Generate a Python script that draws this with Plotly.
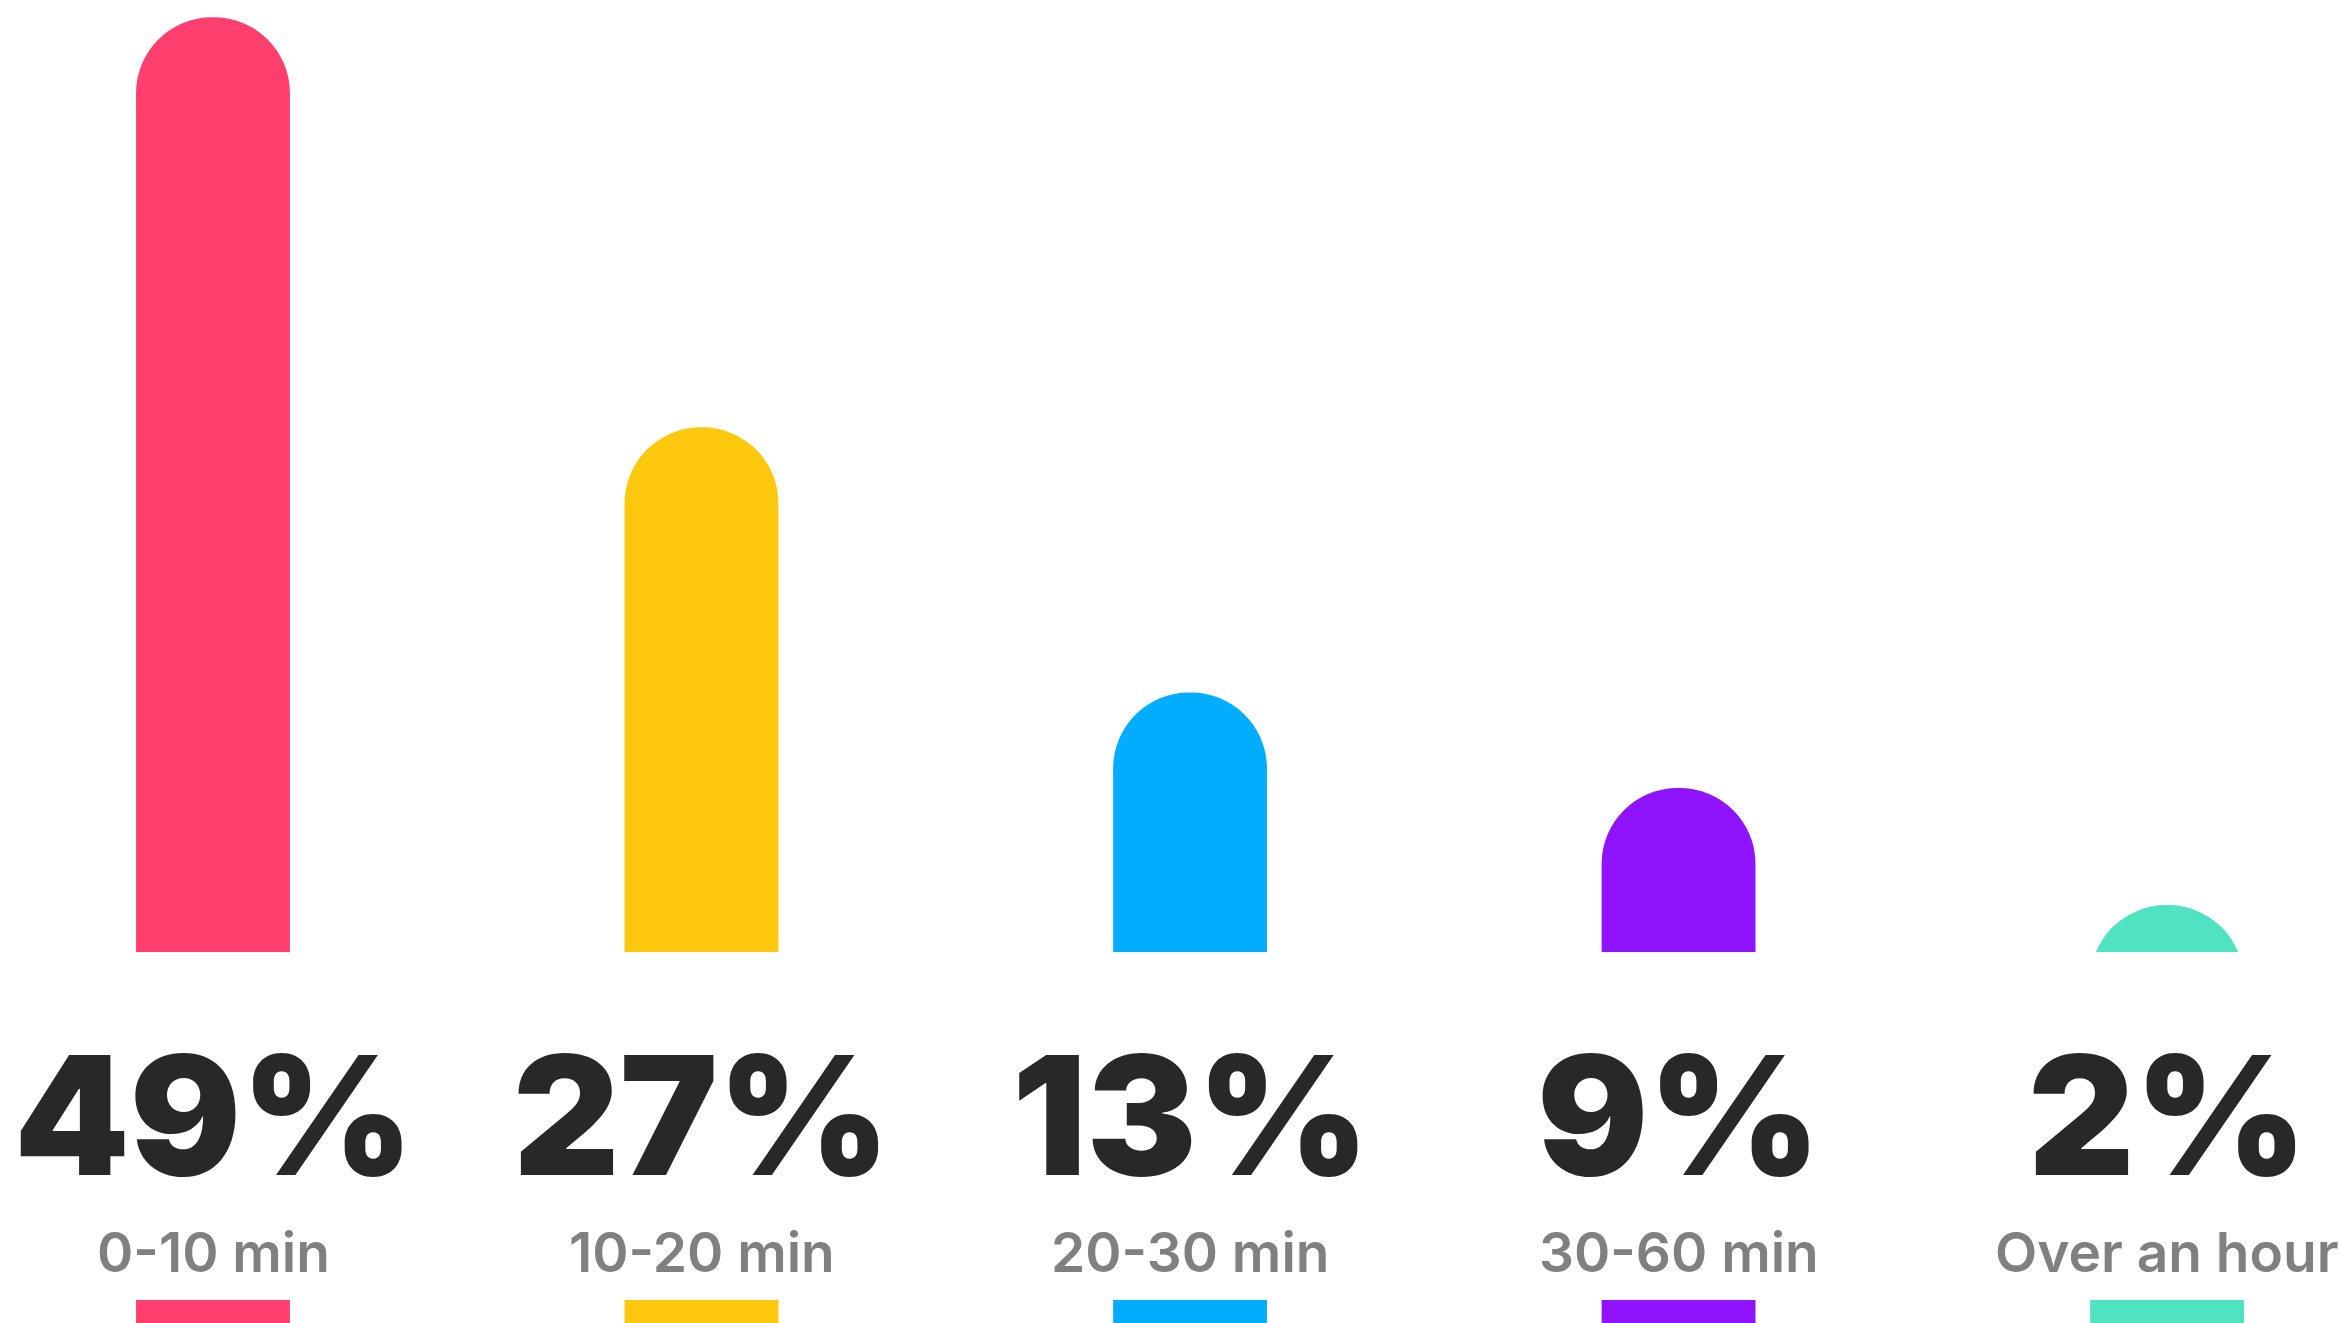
import plotly.graph_objects as go

# ---- data ----
categories = ["0-10 min", "10-20 min", "20-30 min", "30-60 min", "Over an hour"]
bar_values = [49.0, 27.5, 13.6, 8.6, 2.46]         # bar heights
pct_labels = ["49%", "27%", "13%", "9%", "2%"]     # printed labels
colors = ["#FF3F6D", "#FEC80E", "#02ADFE", "#9013FE", "#50E3C2"]
strip_values = [1, 1, 1, 1, 1]

# bars start below the (clipped) baseline so that short bars keep a full round cap
PAD = 6.0
bar_lengths = [v + PAD for v in bar_values]
bar_bases = [-PAD] * len(bar_values)

fig = go.Figure()

fig.add_trace(go.Bar(
    x=categories, y=bar_lengths, base=bar_bases, width=0.315,
    marker=dict(color=colors, line=dict(width=0), cornerradius="50%"),
    hoverinfo="skip", showlegend=False, xaxis="x", yaxis="y",
))

fig.add_trace(go.Bar(
    x=categories, y=strip_values, width=0.315,
    marker=dict(color=colors, line=dict(width=0)),
    hoverinfo="skip", showlegend=False, xaxis="x", yaxis="y2",
))

for cat, pct in zip(categories, pct_labels):
    fig.add_annotation(
        x=cat, y=0.1572, xref="x", yref="paper", text=pct, showarrow=False,
        xanchor="center", yanchor="middle",
        font=dict(family="Inter", size=165, color="#282828", weight=900),
    )
    fig.add_annotation(
        x=cat, y=0.0537, xref="x", yref="paper", text=cat, showarrow=False,
        xanchor="center", yanchor="middle",
        font=dict(family="Inter", size=55, color="#808080", weight=600),
    )

fig.update_layout(
    width=2341, height=1323,
    margin=dict(l=0, r=0, t=0, b=0),
    paper_bgcolor="white", plot_bgcolor="white",
    barmode="overlay",
    xaxis=dict(type="category", range=[-0.436, 4.356], visible=False, fixedrange=True),
    yaxis=dict(domain=[0.2804, 1.0], range=[0, 49.9], visible=False, fixedrange=True),
    yaxis2=dict(domain=[0.0, 0.0174], range=[0, 1], visible=False, fixedrange=True),
)

fig.write_html("out.html", config={"displayModeBar": False},
               post_script="document.body.style.margin='0';")
